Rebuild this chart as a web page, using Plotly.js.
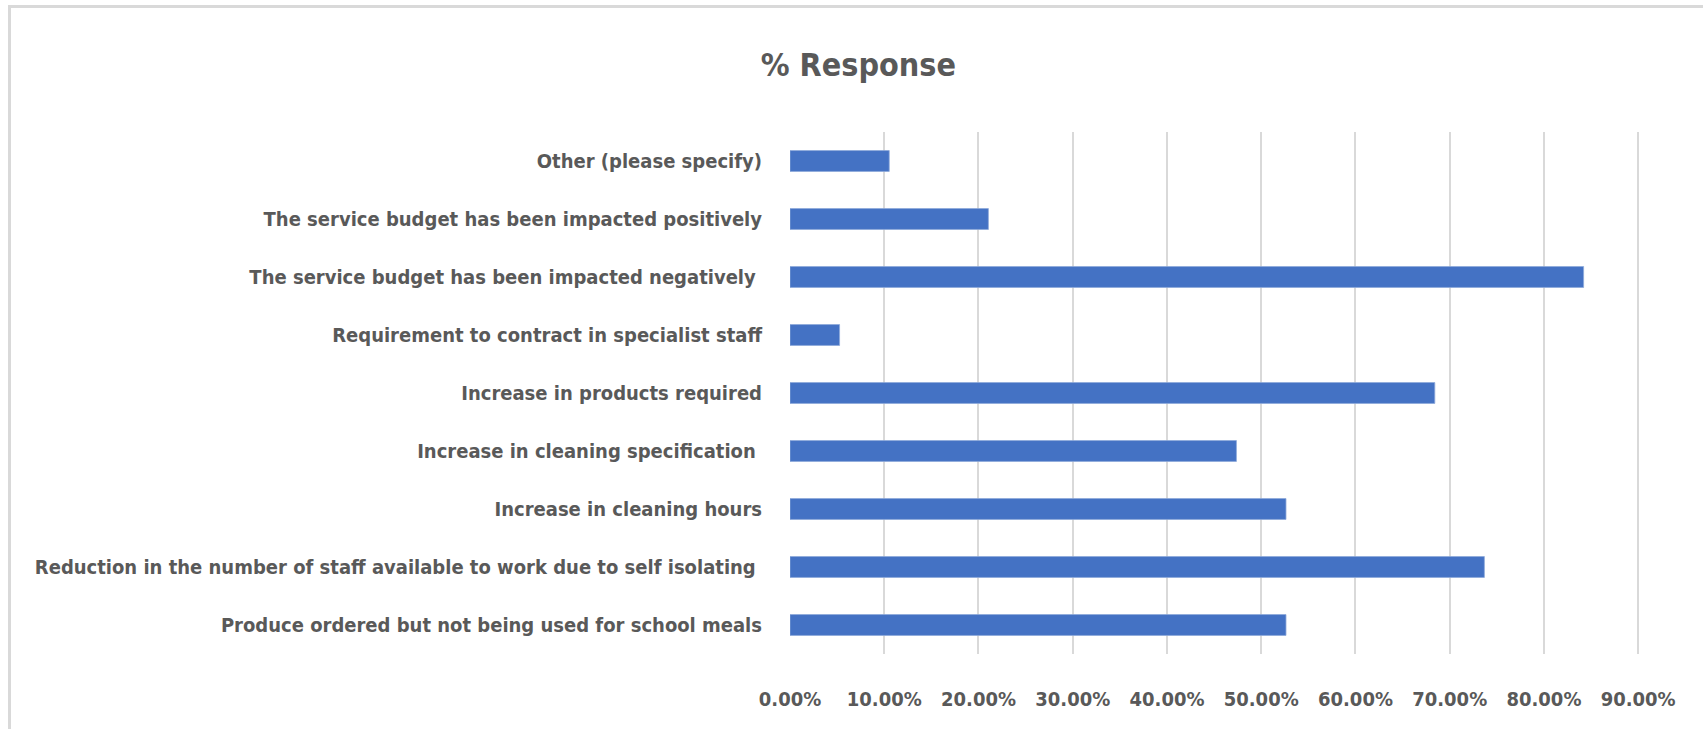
<!DOCTYPE html>
<html>
<head>
<meta charset="utf-8">
<script src="https://cdn.plot.ly/plotly-3.0.1.min.js"></script>
<style>
  html, body { margin: 0; padding: 0; background: #fff; }
  #wrap { position: relative; width: 1703px; height: 729px; overflow: hidden; }
  #chart { position: absolute; left: 0; top: 0; width: 1703px; height: 729px; }
  #frame { position: absolute; left: 8px; top: 5px; width: 1720px; height: 760px;
           border-top: 3px solid #D9D9D9; border-left: 3px solid #D9D9D9; pointer-events: none; }
</style>
</head>
<body>
<div id="wrap">
  <div id="chart"></div>
  <div id="frame"></div>
</div>
<script>
// Categories listed bottom to top (as drawn on the category axis)
const categories = [
  "Produce ordered but not being used for school meals",
  "Reduction in the number of staff available to work due to self isolating ",
  "Increase in cleaning hours",
  "Increase in cleaning specification ",
  "Increase in products required",
  "Requirement to contract in specialist staff",
  "The service budget has been impacted negatively ",
  "The service budget has been impacted positively",
  "Other (please specify)"
];
// Share of responses
const responseShare = [0.5263, 0.7368, 0.5263, 0.4737, 0.6842, 0.0526, 0.8421, 0.2105, 0.1053];
const xTickValues = [0, 0.1, 0.2, 0.3, 0.4, 0.5, 0.6, 0.7, 0.8, 0.9];
const chartTitle = "% Response";

const FONT = "'DejaVu Sans Condensed', 'Liberation Sans Narrow', sans-serif";
const GREY = "#595959";

const trace = {
  type: "bar",
  orientation: "h",
  y: categories,
  x: responseShare,
  marker: { color: "#4472C4", line: { color: "#8EA9DB", width: 0.8 } },
  hoverinfo: "x+y"
};

const layout = {
  width: 1703,
  height: 729,
  paper_bgcolor: "#ffffff",
  plot_bgcolor: "#ffffff",
  margin: { l: 790, r: 62, t: 132, b: 75, pad: 0 },
  showlegend: false,
  bargap: 0.64,
  title: {
    text: "<b>" + chartTitle + "</b>",
    x: 0.504,
    xanchor: "center",
    y: 0.911,
    yanchor: "middle",
    font: { family: FONT, size: 32, color: GREY }
  },
  xaxis: {
    range: [0, 0.903],
    tickvals: xTickValues,
    tickformat: ".2%",
    tickangle: 0,
    showgrid: true,
    gridcolor: "#D9D9D9",
    gridwidth: 2,
    zeroline: false,
    showline: false,
    ticks: "outside",
    ticklen: 27,
    tickcolor: "rgba(0,0,0,0)",
    tickfont: { family: FONT, size: 20, color: GREY, weight: "bold" },
    fixedrange: true
  },
  yaxis: {
    type: "category",
    showgrid: false,
    zeroline: false,
    showline: false,
    ticks: "outside",
    ticklen: 23,
    tickcolor: "rgba(0,0,0,0)",
    tickfont: { family: FONT, size: 20, color: GREY, weight: "bold" },
    automargin: false,
    fixedrange: true
  }
};

Plotly.newPlot("chart", [trace], layout, { displayModeBar: false, staticPlot: true });
</script>
</body>
</html>
